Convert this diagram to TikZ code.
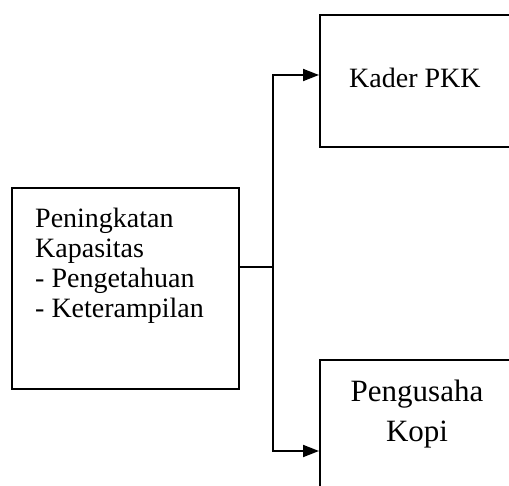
\documentclass[tikz,border=0pt]{standalone}
\usepackage{fontspec}
\setmainfont{Liberation Serif}
\usetikzlibrary{arrows.meta,calc}
\begin{document}
\begin{tikzpicture}[x=1pt,y=-1pt,
  box/.style={draw,line width=1.8pt,inner sep=0pt,anchor=north west},
  txt/.style={inner sep=0pt,anchor=base west,font=\fontsize{28}{30}\selectfont},
  txtb/.style={inner sep=0pt,anchor=base,font=\fontsize{31}{40}\selectfont},
  conn/.style={line width=1.8pt},
  arr/.style={line width=1.8pt,-{Triangle[length=16pt,width=12pt]}}]
\useasboundingbox (0,0) rectangle (509,486);
\clip (0,0) rectangle (509,486);
% boxes
\node[box,minimum width=227pt,minimum height=201pt] (left) at (11,187) {};
\node[box,minimum width=210pt,minimum height=132pt] (top) at (319,14) {};
\node[box,minimum width=210pt,minimum height=150pt] (bot) at (319,359) {};
% texts
\node[txt] (l1) at (35,228) {Peningkatan};
\node[txt] (l2) at (35,258) {Kapasitas};
\node[txt] (l3) at (35,288) {- Pengetahuan};
\node[txt] (l4) at (35,318) {- Keterampilan};
\node[txt] (t1) at (349,88) {Kader PKK};
\node[txtb] (b1) at (417,401.7) {Pengusaha};
\node[txtb] (b2) at (417,441.7) {Kopi};
% connectors
\coordinate (j) at (273,267);
\coordinate (ta) at (0,75);
\coordinate (ba) at (0,451);
\draw[conn] (j -| left.east) -- (j);
\draw[arr] (j) |- (top.west |- ta);
\draw[arr] (j) |- (bot.west |- ba);
\end{tikzpicture}
\end{document}
